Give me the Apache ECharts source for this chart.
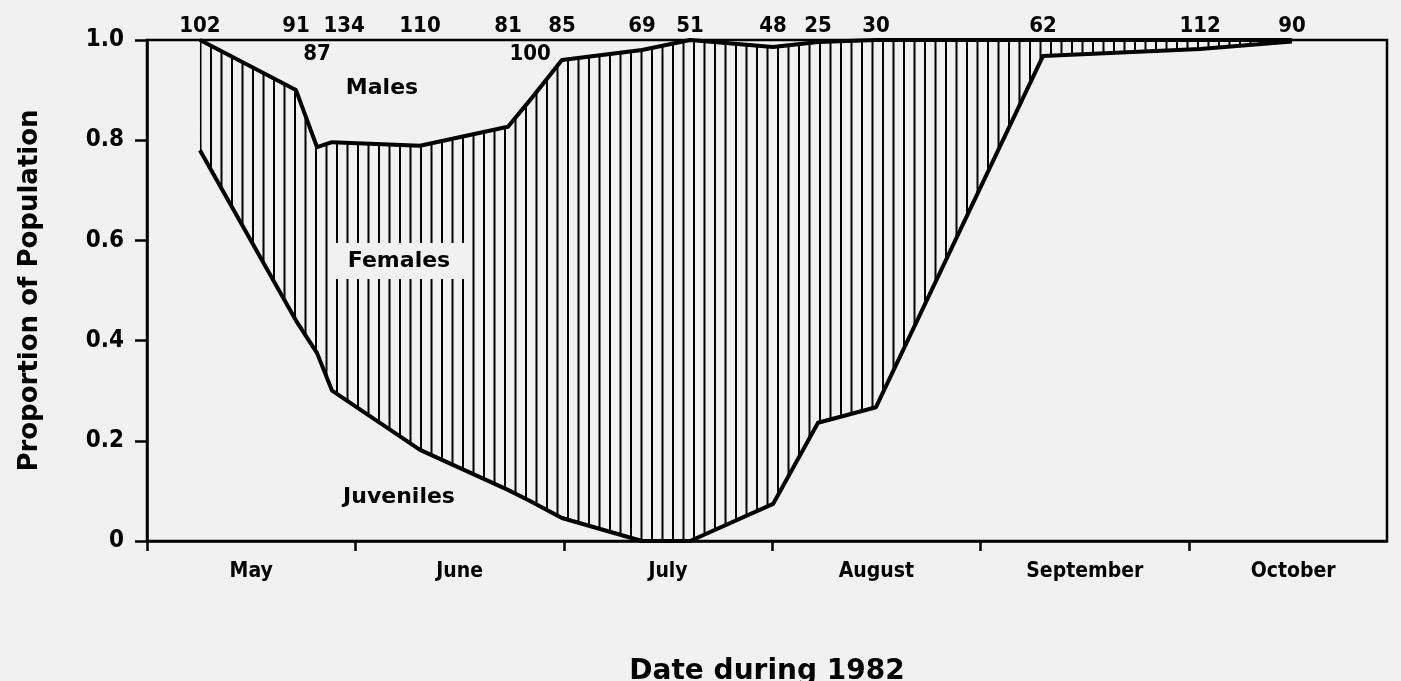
<!DOCTYPE html>
<html>
<head>
<meta charset="utf-8">
<script src="https://cdn.jsdelivr.net/npm/echarts@6/dist/echarts.min.js"></script>
<style>
  html, body { margin: 0; padding: 0; background: #f1f1f1; }
  #chart { width: 1401px; height: 681px; }
</style>
</head>
<body>
<div id="chart"></div>
<script>
// sampling dates, in months after 1 May 1982 (0 = start of May)
const sampleTime = [0.254, 0.715, 0.816, 0.888, 1.310, 1.732, 1.838, 1.991, 2.375, 2.606, 3.004, 3.220, 3.498, 4.299, 5.053, 5.494];
// sample size of each collection
const sampleSizes = [102, 91, 87, 134, 110, 81, 100, 85, 69, 51, 48, 25, 30, 62, 112, 90];
// proportion of juveniles
const juveniles = [0.78, 0.44, 0.375, 0.30, 0.182, 0.102, 0.08, 0.046, 0.0, 0.0, 0.074, 0.236, 0.267, 0.968, 0.982, 0.997];
// proportion of females
const females = [0.22, 0.46, 0.411, 0.496, 0.607, 0.725, 0.80, 0.914, 0.98, 1.0, 0.912, 0.76, 0.733, 0.032, 0.018, 0.003];
const months = ['May', 'June', 'July', 'August', 'September', 'October'];
const yTicks = [0, 0.2, 0.4, 0.6, 0.8, 1.0];

const FONT = '"DejaVu Sans", sans-serif';
const FONT_C = '"DejaVu Sans Condensed", "DejaVu Sans", sans-serif';
const BG = '#f1f1f1';

// juveniles + females, i.e. the top of the females band
const juvFem = juveniles.map((v, i) => [sampleTime[i], v + females[i]]);
const juvPts = juveniles.map((v, i) => [sampleTime[i], v]);

// vertical hatching for the females band
const hatch = document.createElement('canvas');
hatch.width = 21;
hatch.height = 8;
const hctx = hatch.getContext('2d');
hctx.fillStyle = '#000';
hctx.fillRect(0, 0, 2, 8);
hctx.fillRect(10.5, 0, 2, 8);

const chart = echarts.init(document.getElementById('chart'));

const labelBelow = [2, 6]; // 87 and 100 sit under the top line

const option = {
  backgroundColor: BG,
  animation: false,
  grid: {
    left: 147, right: 14, top: 40, bottom: 140, z: 5,
    outerBoundsMode: 'none',
    show: true, borderColor: '#000', borderWidth: 2.5, backgroundColor: 'transparent'
  },
  xAxis: {
    type: 'value',
    min: 0,
    max: 5.95,
    z: 5,
    splitLine: { show: false },
    axisLine: { lineStyle: { color: '#000', width: 2.5 } },
    axisTick: { customValues: [0, 1, 2, 3, 4, 5], length: 10, lineStyle: { color: '#000', width: 2.5 } },
    axisLabel: {
      customValues: [0.5, 1.5, 2.5, 3.5, 4.5, 5.5],
      formatter: v => months[Math.floor(v)],
      color: '#000', fontFamily: FONT_C, fontWeight: 'bold', fontSize: 21, margin: 20
    },
    name: 'Date during 1982',
    nameLocation: 'middle',
    nameGap: 117,
    nameTextStyle: { color: '#000', fontFamily: FONT, fontWeight: 'bold', fontSize: 28 }
  },
  yAxis: {
    type: 'value',
    min: 0,
    max: 1,
    interval: 0.2,
    z: 5,
    splitLine: { show: false },
    axisLine: { lineStyle: { color: '#000', width: 2.5 } },
    axisTick: { length: 12, lineStyle: { color: '#000', width: 2.5 } },
    axisLabel: {
      customValues: yTicks,
      formatter: v => (v === 0 ? '0' : v.toFixed(1)),
      color: '#000', fontFamily: FONT_C, fontWeight: 'bold', fontSize: 24, margin: 23
    },
    name: 'Proportion of Population',
    nameLocation: 'middle',
    nameGap: 104,
    nameTextStyle: { color: '#000', fontFamily: FONT, fontWeight: 'bold', fontSize: 26 }
  },
  series: [
    {
      // hatched band between the juvenile line and the juvenile+female line
      name: 'Females',
      type: 'custom',
      data: sampleTime.map((t, i) => [t, juveniles[i], females[i]]),
      renderItem: (params, api) => {
        if (params.dataIndex !== 0) return null;
        const top = juvFem.map(p => api.coord(p));
        const bottom = juvPts.map(p => api.coord(p)).reverse();
        return {
          type: 'polygon',
          shape: { points: top.concat(bottom) },
          style: { fill: { image: hatch, repeat: 'repeat' }, stroke: null }
        };
      },
      z: 1
    },
    {
      name: 'Females line',
      type: 'line',
      showSymbol: false,
      data: juvFem,
      lineStyle: { color: '#000', width: 4, join: 'round' },
      z: 3
    },
    {
      name: 'Juveniles',
      type: 'line',
      showSymbol: false,
      data: juvPts,
      lineStyle: { color: '#000', width: 4, join: 'round' },
      z: 3
    },
    {
      name: 'n',
      type: 'scatter',
      symbolSize: 0,
      itemStyle: { color: '#000' },
      data: sampleTime.map((t, i) => ({
        value: [t, 1],
        label: {
          position: labelBelow.includes(i) ? 'bottom' : 'top',
          distance: 3,
          offset: sampleSizes[i] === 134 ? [12, 0] : [0, 0]
        }
      })),
      label: {
        show: true,
        formatter: p => String(sampleSizes[p.dataIndex]),
        color: '#000', opacity: 1, fontFamily: FONT_C, fontWeight: 'bold', fontSize: 22
      },
      z: 6
    }
  ],
  graphic: [
    { type: 'text', x: 382, y: 88, z: 10, style: { text: 'Males', fill: '#000', font: 'bold 22px ' + FONT, align: 'center', verticalAlign: 'middle' } },
    { type: 'text', x: 399, y: 261, z: 10, style: { text: 'Females', fill: '#000', font: 'bold 22px ' + FONT, align: 'center', verticalAlign: 'middle', backgroundColor: BG, padding: [7, 18] } },
    { type: 'text', x: 399, y: 497, z: 10, style: { text: 'Juveniles', fill: '#000', font: 'bold 22px ' + FONT, align: 'center', verticalAlign: 'middle' } }
  ]
};

chart.setOption(option);
</script>
</body>
</html>
